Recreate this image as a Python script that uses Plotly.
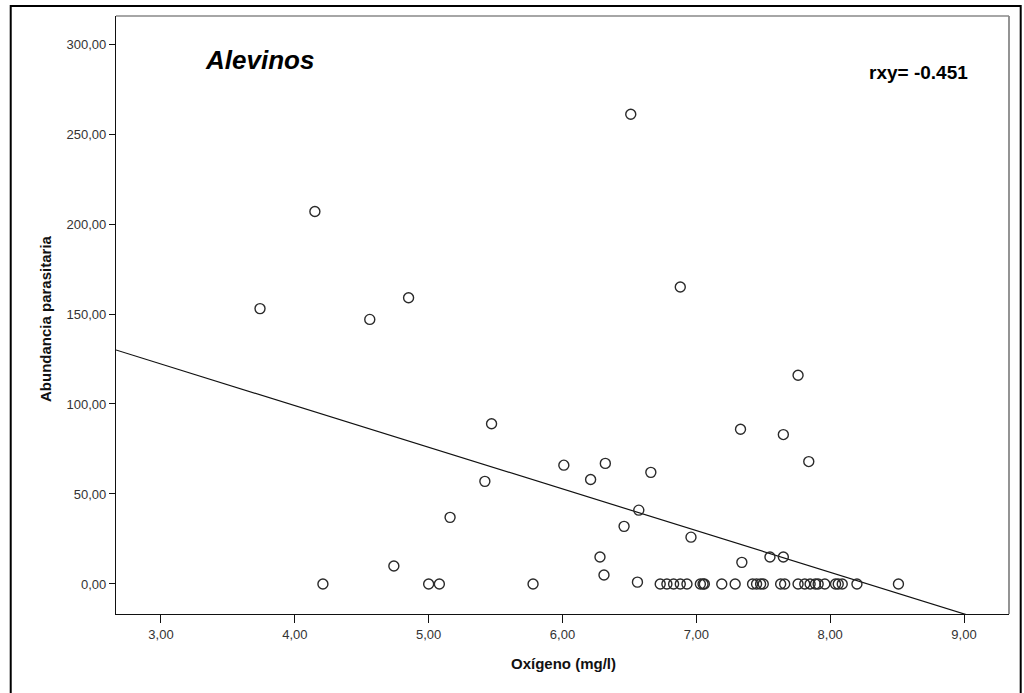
import plotly.graph_objects as go

# Oxygen (mg/l) and parasite abundance
oxigeno = [3.74, 4.15, 4.21, 4.56, 4.74, 4.85, 5.00, 5.08, 5.16, 5.42, 5.47, 5.78,
           6.01, 6.21, 6.28, 6.31, 6.32, 6.46, 6.51, 6.56, 6.57, 6.66, 6.88, 6.96,
           7.33, 7.34, 7.55, 7.65, 7.65, 7.76, 7.84,
           6.73, 6.78, 6.83, 6.88, 6.93, 7.03, 7.05, 7.06, 7.19, 7.29, 7.42, 7.45,
           7.48, 7.50, 7.63, 7.66, 7.76, 7.81, 7.85, 7.89, 7.91, 7.96, 8.04, 8.06,
           8.09, 8.20, 8.51]
abundancia = [153, 207, 0, 147, 10, 159, 0, 0, 37, 57, 89, 0,
              66, 58, 15, 5, 67, 32, 261, 1, 41, 62, 165, 26,
              86, 12, 15, 15, 83, 116, 68,
              0, 0, 0, 0, 0, 0, 0, 0, 0, 0, 0, 0,
              0, 0, 0, 0, 0, 0, 0, 0, 0, 0, 0, 0,
              0, 0, 0]

# Fitted regression line
fit_intercept = 191.7
fit_slope = -23.15

x_range = [2.664, 9.336]
y_range = [-16.7, 315.6]

x_ticks = [3, 4, 5, 6, 7, 8, 9]
x_ticktext = ["3,00", "4,00", "5,00", "6,00", "7,00", "8,00", "9,00"]
y_ticks = [0, 50, 100, 150, 200, 250, 300]
y_ticktext = ["0,00", "50,00", "100,00", "150,00", "200,00", "250,00", "300,00"]

FONT = "Arial, Liberation Sans, sans-serif"

fig = go.Figure()

fit_x = x_range
fit_y = [fit_intercept + fit_slope * v for v in fit_x]
fig.add_trace(go.Scatter(x=fit_x, y=fit_y, mode="lines",
                         line=dict(color="#111111", width=1.2),
                         hoverinfo="skip", showlegend=False))

fig.add_trace(go.Scatter(x=oxigeno, y=abundancia, mode="markers",
                         marker=dict(symbol="circle-open", size=10, color="#2a2a2a",
                                     line=dict(width=1.4, color="#2a2a2a")),
                         showlegend=False))

fig.update_layout(
    width=1024, height=693,
    margin=dict(l=116, r=15, t=16, b=79),
    paper_bgcolor="white", plot_bgcolor="white",
    font=dict(family=FONT, color="#222222"),
    xaxis=dict(range=x_range, tickvals=x_ticks, ticktext=x_ticktext,
               showgrid=False, zeroline=False, showline=True, linecolor="#111111",
               linewidth=1.3, ticks="outside", ticklen=8, tickwidth=1.3,
               tickcolor="#111111", tickfont=dict(size=13, family=FONT, color="#333333")),
    yaxis=dict(range=y_range, tickvals=y_ticks, ticktext=y_ticktext,
               showgrid=False, zeroline=False, showline=True, linecolor="#111111",
               linewidth=1.3, ticks="outside", ticklen=6, tickwidth=1.3,
               tickcolor="#111111", tickfont=dict(size=13, family=FONT, color="#333333")),
    shapes=[
        # plot frame (top/right in gray)
        dict(type="line", xref="paper", yref="paper", x0=0, x1=1, y0=1, y1=1,
             line=dict(color="#888888", width=1.5)),
        dict(type="line", xref="paper", yref="paper", x0=1, x1=1, y0=0, y1=1,
             line=dict(color="#888888", width=1.8)),
        # outer frame
        dict(type="rect", xref="paper", yref="paper",
             x0=-0.1179, x1=1.0131, y0=-0.16, y1=1.0167,
             line=dict(color="black", width=2)),
    ],
    annotations=[
        dict(text="<b><i>Alevinos</i></b>", xref="paper", yref="paper",
             x=0.0974, y=0.926, xanchor="left", yanchor="middle", showarrow=False,
             font=dict(size=26, family=FONT, color="black")),
        dict(text="<b>rxy= -0.451</b>", xref="paper", yref="paper",
             x=0.956, y=0.905, xanchor="right", yanchor="middle", showarrow=False,
             font=dict(size=19, family=FONT, color="black")),
        dict(text="<b>Oxígeno (mg/l)</b>", xref="paper", yref="paper",
             x=0.5006, y=-0.0836, xanchor="center", yanchor="middle", showarrow=False,
             font=dict(size=15, family=FONT, color="#111111")),
        dict(text="<b>Abundancia parasitaria</b>", xref="paper", yref="paper",
             x=-0.0784, y=0.495, xanchor="center", yanchor="middle", showarrow=False,
             textangle=-90, font=dict(size=15, family=FONT, color="#111111")),
    ],
)

fig.write_html("out.html", config={"displayModeBar": False},
               post_script="document.body.style.margin='0';document.body.style.overflow='hidden';")
